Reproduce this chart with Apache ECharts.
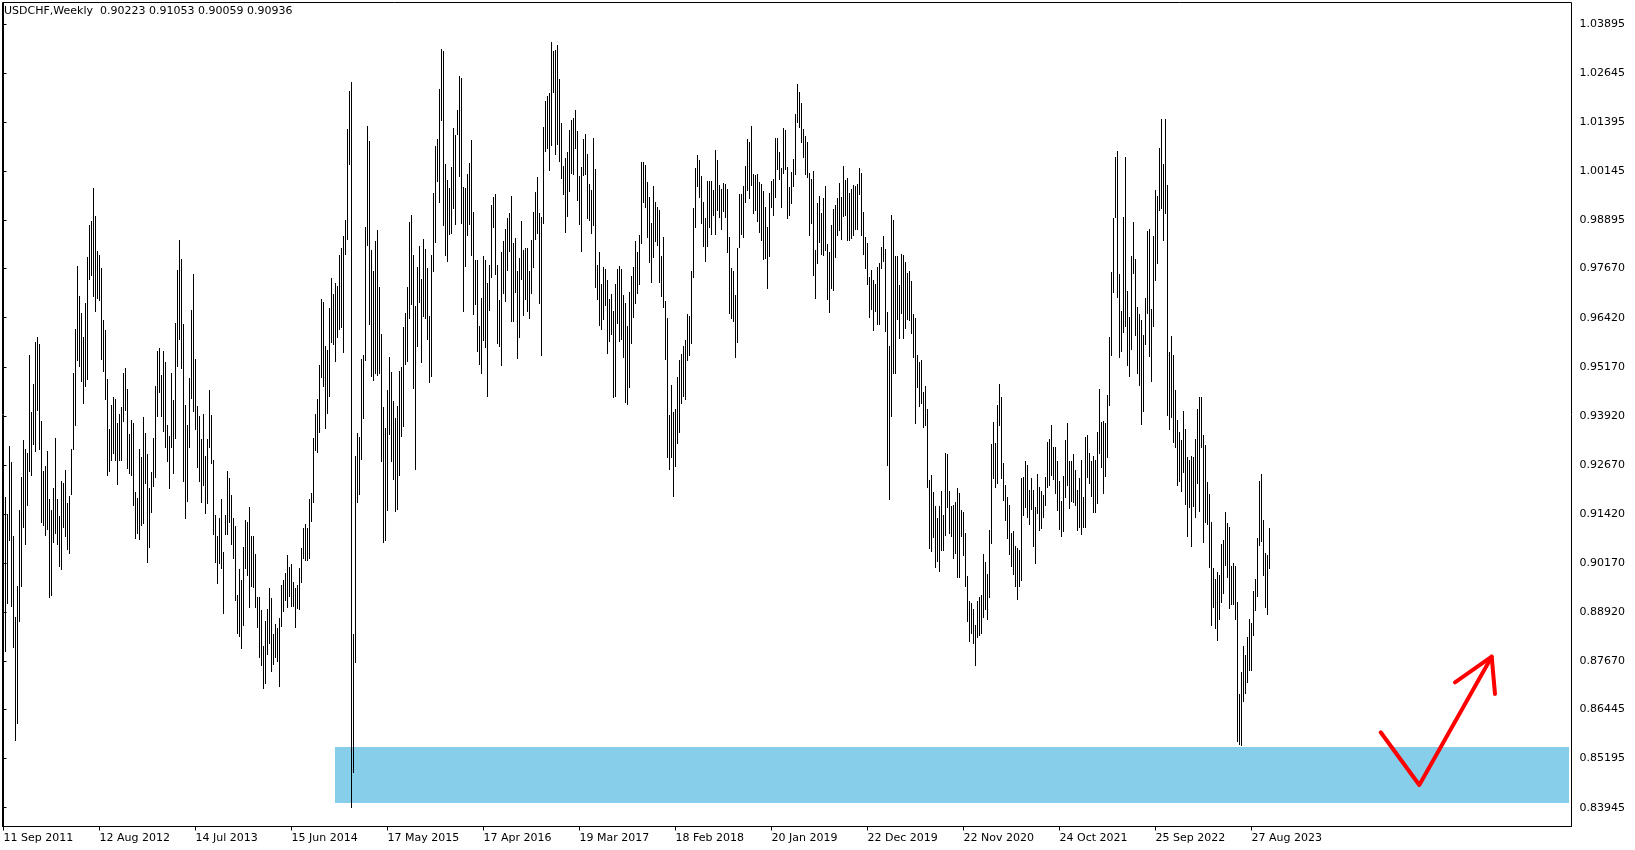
<!DOCTYPE html>
<html>
<head>
<meta charset="utf-8">
<script src="https://cdn.jsdelivr.net/npm/echarts@6.0.0/dist/echarts.min.js"></script>
<style>
html,body{margin:0;padding:0;background:#fff;}
#chart{width:1635px;height:850px;}
</style>
</head>
<body>
<div id="chart"></div>
<script>
// ---- data ----
const symbol = 'USDCHF';
const timeframe = 'Weekly';
const lastBarOHLC = [0.90223, 0.91053, 0.90059, 0.90936];

// weekly highs, one per bar starting with the week of 11 Sep 2011
const highs = [
0.8930,0.9185,0.9142,0.9316,0.9274,0.9086,0.8879,0.8959,0.9153,0.9236,
0.9331,0.9307,0.9298,0.9547,0.9401,0.9472,0.9580,0.9594,0.9575,0.9378,
0.9251,0.9265,0.9302,0.9180,0.9152,0.9208,0.9335,0.9180,0.9138,0.9227,
0.9222,0.9255,0.9170,0.9189,0.9307,0.9502,0.9613,0.9773,0.9698,0.9653,
0.9594,0.9679,0.9797,0.9877,0.9888,0.9973,0.9900,0.9813,0.9801,0.9768,
0.9637,0.9611,0.9486,0.9359,0.9420,0.9439,0.9434,0.9373,0.9397,0.9415,
0.9502,0.9514,0.9461,0.9345,0.9382,0.9373,0.9199,0.9183,0.9307,0.9288,
0.9389,0.9349,0.9295,0.9208,0.9248,0.9335,0.9467,0.9557,0.9566,0.9495,
0.9557,0.9530,0.9369,0.9341,0.9500,0.9432,0.9629,0.9763,0.9840,0.9791,
0.9626,0.9420,0.9369,0.9489,0.9662,0.9753,0.9537,0.9417,0.9392,0.9332,
0.9397,0.9290,0.9332,0.9458,0.9394,0.9280,0.9140,0.9085,0.9133,0.9180,
0.9046,0.9140,0.9252,0.9233,0.9191,0.9131,0.9112,0.8936,0.9001,0.8974,
0.9059,0.9127,0.9121,0.9159,0.9085,0.9085,0.9040,0.8932,0.8932,0.8898,
0.8806,0.8871,0.8900,0.8953,0.8928,0.8837,0.8862,0.8851,0.8877,0.8961,
0.8974,0.8993,0.9038,0.9008,0.9015,0.8970,0.8953,0.8961,0.9006,0.9055,
0.9106,0.9117,0.9106,0.9180,0.9196,0.9335,0.9398,0.9434,0.9522,0.9689,
0.9683,0.9571,0.9560,0.9666,0.9742,0.9703,0.9730,0.9723,0.9801,0.9820,
0.9849,0.9890,1.0122,1.0219,1.0242,0.8836,0.9289,0.9349,0.9338,0.9537,
0.9547,0.9873,1.0131,1.0091,0.9814,0.9760,0.9837,0.9864,0.9720,0.9600,
0.9415,0.9361,0.9458,0.9543,0.9503,0.9430,0.9386,0.9418,0.9506,0.9516,
0.9619,0.9653,0.9720,0.9886,0.9903,0.9801,0.9673,0.9770,0.9824,0.9741,
0.9843,0.9816,0.9768,0.9647,0.9801,0.9959,1.0078,1.0097,1.0223,1.0327,
1.0321,1.0034,0.9993,0.9971,1.0026,1.0125,1.0107,1.0170,1.0257,1.0252,
0.9975,0.9971,1.0007,1.0037,1.0095,0.9912,0.9789,0.9789,0.9622,0.9692,
0.9799,0.9789,0.9731,0.9776,0.9929,0.9950,0.9957,0.9776,0.9687,0.9808,
0.9838,0.9867,0.9897,0.9909,0.9953,0.9833,0.9844,0.9762,0.9793,0.9887,
0.9814,0.9819,0.9819,0.9762,0.9840,0.9912,0.9963,1.0001,0.9909,0.9899,
1.0127,1.0194,1.0206,1.0215,1.0345,1.0322,1.0323,1.0336,1.0249,1.0138,
1.0028,1.0048,1.0065,1.0120,1.0144,1.0150,1.0171,1.0117,1.0003,1.0026,
1.0096,1.0110,1.0059,0.9982,0.9967,1.0099,1.0020,0.9776,0.9808,0.9728,
0.9770,0.9765,0.9738,0.9689,0.9702,0.9660,0.9728,0.9765,0.9774,0.9765,
0.9700,0.9679,0.9620,0.9708,0.9748,0.9770,0.9838,0.9810,0.9852,1.0039,
1.0039,1.0031,0.9988,0.9948,0.9884,0.9977,0.9937,0.9923,0.9916,0.9799,
0.9848,0.9685,0.9640,0.9394,0.9471,0.9403,0.9409,0.9492,0.9534,0.9550,
0.9570,0.9585,0.9651,0.9646,0.9762,0.9922,1.0024,1.0056,1.0043,1.0002,
0.9937,0.9895,0.9990,0.9990,0.9990,0.9967,1.0069,1.0043,0.9980,0.9969,
0.9986,0.9982,0.9970,0.9848,0.9768,0.9762,0.9700,0.9819,0.9957,0.9957,
0.9977,1.0028,1.0096,1.0088,1.0130,1.0008,1.0005,1.0009,0.9988,0.9982,
0.9965,0.9923,0.9872,0.9960,0.9990,0.9996,1.0099,1.0099,1.0065,1.0022,
1.0124,1.0120,1.0026,0.9974,1.0014,1.0045,1.0161,1.0237,1.0217,1.0188,
1.0122,1.0105,1.0090,1.0011,0.9994,1.0016,0.9814,0.9935,0.9952,0.9909,
0.9946,0.9976,0.9830,0.9810,0.9878,0.9918,0.9929,0.9946,0.9986,0.9950,
1.0028,0.9993,0.9997,0.9959,0.9969,0.9980,0.9977,0.9982,1.0022,1.0011,
0.9912,0.9847,0.9831,0.9746,0.9763,0.9738,0.9729,0.9770,0.9780,0.9821,
0.9850,0.9816,0.9657,0.9570,0.9903,0.9891,0.9798,0.9799,0.9725,0.9804,
0.9802,0.9783,0.9757,0.9762,0.9736,0.9651,0.9640,0.9547,0.9530,0.9534,
0.9454,0.9468,0.9409,0.9230,0.9241,0.9199,0.9163,0.9131,0.9163,0.9202,
0.9140,0.9297,0.9295,0.9202,0.9163,0.9165,0.9174,0.9208,0.9195,0.9153,
0.9148,0.9095,0.8985,0.8920,0.8915,0.8900,0.8860,0.8920,0.8930,0.8935,
0.9040,0.9020,0.8990,0.9102,0.9320,0.9377,0.9322,0.9420,0.9473,0.9441,
0.9271,0.9216,0.9185,0.9165,0.9095,0.9100,0.9060,0.9055,0.9050,0.9233,
0.9237,0.9276,0.9267,0.9203,0.9233,0.9203,0.9159,0.9244,0.9210,0.9202,
0.9191,0.9237,0.9326,0.9332,0.9369,0.9314,0.9314,0.9276,0.9227,0.9176,
0.9239,0.9331,0.9375,0.9276,0.9276,0.9295,0.9254,0.9203,0.9233,0.9280,
0.9185,0.9339,0.9343,0.9298,0.9276,0.9290,0.9280,0.9352,0.9460,0.9377,
0.9380,0.9375,0.9445,0.9594,0.9759,0.9895,1.0050,1.0067,0.9753,0.9660,
0.9899,1.0052,0.9709,0.9644,0.9800,0.9885,0.9791,0.9669,0.9652,0.9637,
0.9598,0.9693,0.9862,0.9869,0.9663,0.9851,0.9966,0.9952,1.0073,1.0148,
1.0033,1.0148,0.9980,0.9555,0.9596,0.9548,0.9457,0.9382,0.9350,0.9330,
0.9405,0.9358,0.9288,0.9280,0.9291,0.9288,0.9334,0.9409,0.9441,0.9441,
0.9344,0.9317,0.9223,0.9194,0.9122,0.9005,0.8977,0.8994,0.8987,0.9066,
0.9076,0.9148,0.9119,0.9108,0.9009,0.9017,0.9009,0.8919,0.8685,0.8739,
0.8805,0.8784,0.8830,0.8876,0.8865,0.8945,0.8977,0.9080,0.9226,0.9245,
0.9127,0.9044,0.9039,0.91053
];

// weekly lows, same bars
const lows = [
0.8648,0.8794,0.8916,0.9076,0.8907,0.8803,0.8568,0.8610,0.8869,0.8959,
0.9109,0.9067,0.9166,0.9251,0.9241,0.9321,0.9302,0.9406,0.9307,0.9123,
0.9114,0.9090,0.9105,0.8930,0.8935,0.9072,0.9095,0.9067,0.9010,0.9001,
0.9109,0.9086,0.9053,0.9043,0.9194,0.9307,0.9368,0.9533,0.9519,0.9481,
0.9425,0.9467,0.9486,0.9740,0.9750,0.9698,0.9660,0.9693,0.9688,0.9538,
0.9505,0.9436,0.9241,0.9251,0.9279,0.9298,0.9279,0.9218,0.9279,0.9279,
0.9378,0.9406,0.9260,0.9246,0.9241,0.9166,0.9081,0.9095,0.9078,0.9114,
0.9119,0.9222,0.9020,0.9057,0.9147,0.9213,0.9236,0.9392,0.9453,0.9392,
0.9354,0.9314,0.9278,0.9208,0.9314,0.9247,0.9335,0.9519,0.9589,0.9513,
0.9225,0.9131,0.9176,0.9312,0.9437,0.9405,0.9359,0.9263,0.9227,0.9174,
0.9216,0.9146,0.9171,0.9312,0.9271,0.9091,0.9021,0.8967,0.9017,0.9004,
0.8891,0.9091,0.9091,0.9123,0.9067,0.9029,0.8923,0.8840,0.8832,0.8800,
0.8860,0.9004,0.8987,0.8905,0.8959,0.8957,0.8905,0.8855,0.8777,0.8758,
0.8698,0.8713,0.8786,0.8815,0.8743,0.8760,0.8777,0.8769,0.8704,0.8857,
0.8896,0.8922,0.8906,0.8933,0.8908,0.8908,0.8855,0.8902,0.8900,0.8970,
0.9029,0.9025,0.9025,0.9029,0.9125,0.9174,0.9305,0.9301,0.9352,0.9490,
0.9469,0.9361,0.9399,0.9443,0.9579,0.9575,0.9531,0.9594,0.9613,0.9619,
0.9554,0.9805,0.9843,1.0034,0.8396,0.8485,0.8766,0.9172,0.9194,0.9282,
0.9386,0.9533,0.9827,0.9625,0.9493,0.9483,0.9500,0.9496,0.9500,0.9277,
0.9072,0.9075,0.9153,0.9345,0.9277,0.9232,0.9151,0.9156,0.9242,0.9342,
0.9367,0.9525,0.9531,0.9642,0.9676,0.9462,0.9257,0.9569,0.9682,0.9529,
0.9647,0.9642,0.9588,0.9478,0.9493,0.9760,0.9835,0.9990,0.9936,1.0145,
0.9877,0.9802,0.9786,0.9854,0.9858,0.9921,0.9881,1.0110,1.0003,0.9883,
0.9659,0.9773,0.9852,0.9880,0.9802,0.9651,0.9676,0.9556,0.9525,0.9500,
0.9584,0.9568,0.9443,0.9662,0.9746,0.9872,0.9753,0.9578,0.9570,0.9521,
0.9704,0.9685,0.9763,0.9813,0.9634,0.9634,0.9708,0.9539,0.9594,0.9740,
0.9649,0.9689,0.9660,0.9640,0.9704,0.9772,0.9842,0.9858,0.9680,0.9547,
0.9884,1.0067,1.0073,1.0018,1.0082,1.0217,1.0059,1.0084,1.0042,0.9997,
0.9957,0.9861,0.9901,0.9965,1.0010,1.0008,1.0073,0.9942,0.9880,0.9813,
1.0005,1.0008,0.9897,0.9891,0.9858,0.9878,0.9721,0.9689,0.9623,0.9612,
0.9638,0.9674,0.9553,0.9583,0.9600,0.9439,0.9443,0.9629,0.9583,0.9587,
0.9541,0.9428,0.9422,0.9466,0.9578,0.9643,0.9680,0.9704,0.9729,0.9831,
0.9937,0.9923,0.9847,0.9785,0.9734,0.9796,0.9838,0.9827,0.9734,0.9697,
0.9670,0.9536,0.9288,0.9256,0.9287,0.9188,0.9265,0.9324,0.9352,0.9424,
0.9443,0.9434,0.9533,0.9547,0.9577,0.9746,0.9872,0.9976,0.9950,0.9884,
0.9825,0.9787,0.9825,0.9872,0.9855,0.9903,0.9855,0.9916,0.9899,0.9867,
0.9914,0.9899,0.9808,0.9653,0.9640,0.9634,0.9541,0.9579,0.9821,0.9855,
0.9848,0.9937,0.9967,0.9946,0.9980,0.9909,0.9916,0.9889,0.9861,0.9840,
0.9791,0.9793,0.9717,0.9799,0.9923,0.9903,0.9948,1.0020,0.9994,0.9925,
1.0011,1.0020,0.9895,0.9903,0.9933,0.9977,1.0008,1.0141,1.0127,1.0088,
1.0050,1.0009,1.0001,0.9853,0.9884,0.9751,0.9693,0.9782,0.9835,0.9804,
0.9802,0.9814,0.9690,0.9657,0.9718,0.9713,0.9797,0.9853,0.9864,0.9842,
0.9901,0.9903,0.9840,0.9840,0.9846,0.9853,0.9867,0.9867,0.9957,0.9853,
0.9804,0.9768,0.9729,0.9645,0.9663,0.9611,0.9660,0.9626,0.9626,0.9768,
0.9787,0.9609,0.9267,0.9180,0.9392,0.9500,0.9502,0.9638,0.9590,0.9655,
0.9590,0.9617,0.9638,0.9636,0.9602,0.9541,0.9375,0.9465,0.9417,0.9424,
0.9363,0.9369,0.9210,0.9055,0.9049,0.9083,0.9008,0.9023,0.8998,0.9051,
0.9051,0.9089,0.9161,0.9095,0.9085,0.9029,0.9042,0.8983,0.8983,0.9085,
0.9038,0.8960,0.8870,0.8818,0.8840,0.8815,0.8757,0.8830,0.8835,0.8840,
0.8880,0.8900,0.8875,0.8930,0.9069,0.9233,0.9212,0.9222,0.9369,0.9233,
0.9178,0.9127,0.9080,0.9040,0.9010,0.8990,0.8960,0.8925,0.8960,0.8975,
0.9140,0.9161,0.9134,0.9117,0.9154,0.9060,0.9018,0.9144,0.9102,0.9106,
0.9134,0.9165,0.9212,0.9216,0.9242,0.9231,0.9195,0.9152,0.9103,0.9085,
0.9100,0.9186,0.9216,0.9157,0.9176,0.9174,0.9165,0.9102,0.9110,0.9091,
0.9108,0.9108,0.9237,0.9220,0.9188,0.9148,0.9148,0.9169,0.9298,0.9261,
0.9195,0.9239,0.9287,0.9420,0.9547,0.9708,0.9898,0.9694,0.9543,0.9556,
0.9606,0.9620,0.9521,0.9494,0.9562,0.9757,0.9599,0.9502,0.9470,0.9371,
0.9405,0.9575,0.9655,0.9545,0.9480,0.9620,0.9738,0.9780,0.9915,0.9920,
0.9840,0.9909,0.9395,0.9358,0.9390,0.9326,0.9312,0.9216,0.9226,0.9200,
0.9248,0.9167,0.9087,0.9159,0.9060,0.9162,0.9135,0.9221,0.9151,0.9312,
0.9071,0.9122,0.9116,0.9007,0.8859,0.8905,0.8851,0.8822,0.8876,0.8919,
0.8940,0.9012,0.8983,0.8902,0.8913,0.8913,0.8876,0.8565,0.8557,0.8555,
0.8666,0.8687,0.8715,0.8744,0.8744,0.8833,0.8897,0.8934,0.9063,0.9073,
0.8987,0.8905,0.8887,0.90059
];

// axis labels
const xLabelTexts = ['11 Sep 2011','12 Aug 2012','14 Jul 2013','15 Jun 2014','17 May 2015','17 Apr 2016','19 Mar 2017','18 Feb 2018','20 Jan 2019','22 Dec 2019','22 Nov 2020','24 Oct 2021','25 Sep 2022','27 Aug 2023'];
const xLabelBars = [0,48,96,144,192,240,288,336,384,432,480,528,576,624];
const yTickLabels = ['1.03895','1.02645','1.01395','1.00145','0.98895','0.97670','0.96420','0.95170','0.93920','0.92670','0.91420','0.90170','0.88920','0.87670','0.86445','0.85195','0.83945'];

// annotations drawn on the chart (bar index, price)
const zoneBars = [165.75, 782.75];
const zonePrices = [0.8549, 0.84065];
const arrowStroke = [[688.6, 0.85865], [707.9, 0.84523], [744.1, 0.87789]];
const arrowHead = [[725.75, 0.87138], [744.1, 0.87789], [745.75, 0.86840]];

// ---- chart ----
const FONT = '"DejaVu Sans", Verdana, sans-serif';
const bars = highs.map((h, i) => [i, h, lows[i]]);
const xLabelMap = {};
xLabelBars.forEach((b, k) => { xLabelMap[b] = xLabelTexts[k]; });
const yTickValues = yTickLabels.map(Number);
const yLabelMap = {};
yTickLabels.forEach(s => { yLabelMap[Number(s)] = s; });
const fmt = v => v.toFixed(5);
const header = symbol + ',' + timeframe + '  ' + lastBarOHLC.map(fmt).join(' ');

const chart = echarts.init(document.getElementById('chart'), null, {renderer: 'canvas'});
chart.setOption({
  animation: false,
  backgroundColor: '#ffffff',
  title: {
    text: header, left: 4, top: 5, padding: 0,
    textStyle: {fontFamily: FONT, fontSize: 11, fontWeight: 'normal', color: '#000', lineHeight: 13}
  },
  grid: {
    left: 2.5, top: 2.5, width: 1569, height: 824,
    show: true, borderColor: '#000', borderWidth: 1, backgroundColor: '#fff'
  },
  xAxis: {
    type: 'value', min: -0.5, max: 784,
    axisLine: {show: true, lineStyle: {color: '#000', width: 1}},
    axisTick: {show: true, customValues: xLabelBars, length: 4, lineStyle: {color: '#000'}},
    axisLabel: {
      customValues: xLabelBars, formatter: v => xLabelMap[v] || '',
      align: 'left', margin: 6, color: '#000', fontFamily: FONT, fontSize: 11
    },
    splitLine: {show: false}
  },
  yAxis: {
    type: 'value', position: 'right', min: 0.834664, max: 1.04444,
    axisLine: {show: true, lineStyle: {color: '#000', width: 1}},
    axisTick: {show: true, customValues: yTickValues, length: 3, lineStyle: {color: '#000'}},
    axisLabel: {
      customValues: yTickValues, formatter: v => yLabelMap[v] || fmt(v),
      margin: 8, color: '#000', fontFamily: FONT, fontSize: 11
    },
    splitLine: {show: false}
  },
  series: [
    {
      name: 'zone', type: 'line', data: [], silent: true, z: 1,
      markArea: {
        silent: true,
        itemStyle: {color: '#87CEEB', opacity: 1},
        data: [[{xAxis: zoneBars[0], yAxis: zonePrices[0]}, {xAxis: zoneBars[1], yAxis: zonePrices[1]}]]
      },
      markLine: {
        silent: true, symbol: ['none', 'none'],
        lineStyle: {opacity: 0},
        label: {
          show: true, position: 'end', distance: 2,
          formatter: fmt(lastBarOHLC[3]),
          backgroundColor: '#000', color: '#fff',
          fontFamily: FONT, fontSize: 11, lineHeight: 12, padding: [0, 4, 0, 5]
        },
        data: [{yAxis: lastBarOHLC[3]}]
      }
    },
    {
      name: symbol, type: 'custom', z: 2, silent: true,
      data: bars, encode: {x: 0, y: [1, 2]},
      renderItem: function (params, api) {
        const i = api.value(0);
        const top = api.coord([i, api.value(1)]);
        const bot = api.coord([i, api.value(2)]);
        const x = Math.floor(top[0]) + 0.5;
        return {
          type: 'line',
          shape: {x1: x, y1: Math.round(top[1]), x2: x, y2: Math.round(bot[1]) + 1},
          style: {stroke: '#000', lineWidth: 1}
        };
      }
    },
    {
      name: 'arrow', type: 'line', data: arrowStroke, z: 3, silent: true,
      symbol: 'none', lineStyle: {color: '#ff0000', width: 4, cap: 'round', join: 'round'}
    },
    {
      name: 'arrowHead', type: 'line', data: arrowHead, z: 3, silent: true,
      symbol: 'none', lineStyle: {color: '#ff0000', width: 4, cap: 'round', join: 'round'}
    }
  ]
});
</script>
</body>
</html>
